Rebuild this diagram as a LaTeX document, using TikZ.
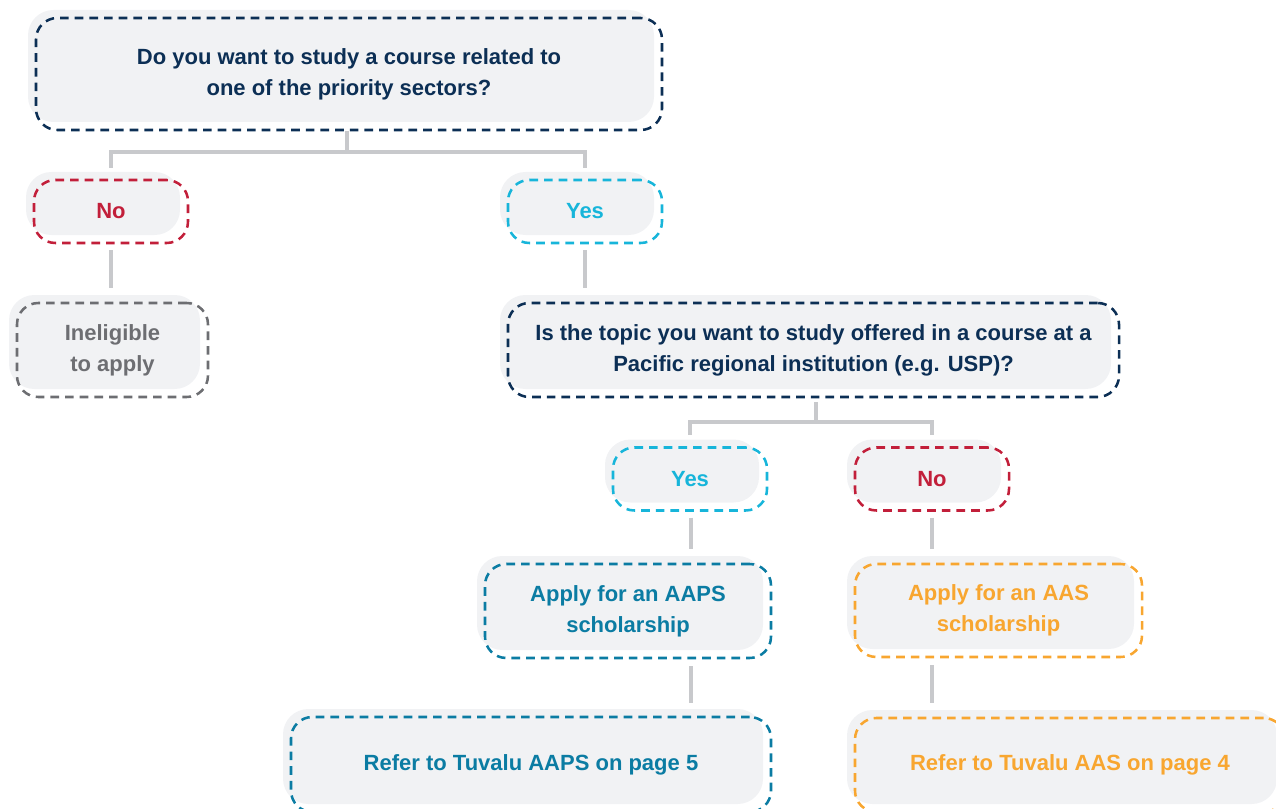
\documentclass[tikz,border=0pt]{standalone}
\usepackage{fontspec}
\setmainfont{Liberation Sans}
\usetikzlibrary{calc}
\definecolor{navy}{HTML}{0C2F55}
\definecolor{cred}{HTML}{C21F3A}
\definecolor{ccyan}{HTML}{17B5DA}
\definecolor{cgray}{HTML}{6D6E72}
\definecolor{cteal}{HTML}{0B7CA3}
\definecolor{corange}{HTML}{F8A630}
\definecolor{boxfill}{HTML}{F1F2F4}
\definecolor{connc}{HTML}{C8C9CC}
\tikzset{
  sz/.style 2 args={minimum width=#1*0.75pt, minimum height=#2*0.75pt},
  bgbox/.style={rectangle, fill=boxfill, draw=none, rounded corners=19pt, inner sep=0pt, outer sep=0pt},
  dbox/.style={rectangle, draw=#1, text=#1, line width=1.9pt, dash pattern=on 6.5pt off 4.5pt,
    rounded corners=16pt, inner sep=0pt, outer sep=0pt, align=center,
    font=\bfseries\fontsize{16.5}{23.2}\selectfont},
  conn/.style={draw=connc, line width=2.6pt}
}
\newcommand\flowbox[7]{%
  \node[bgbox, sz={#5}{#6}] (#1bg) at (#3-8,#4-8) {};
  \node[dbox=#2, sz={#5}{#6}] (#1) at (#3,#4) {#7};}
\begin{document}
\begin{tikzpicture}[x=0.75pt, y=-0.75pt]
\useasboundingbox (0,0) rectangle (1276,809);
\clip (0,0) rectangle (1276,809);
\flowbox{q1}{navy}{349}{74}{626}{112}{Do you want to study a course related to\\one of the priority sectors?}
\flowbox{no1}{cred}{111}{211.5}{154}{63}{No}
\flowbox{yes1}{ccyan}{585}{211.5}{154}{63}{Yes}
\flowbox{inel}{cgray}{112.5}{350}{191}{94}{Ineligible\\to apply}
\flowbox{q2}{navy}{813.5}{350}{611}{94}{Is the topic you want to study offered in a course at a\\Pacific regional institution (e.g. USP)?}
\flowbox{yes2}{ccyan}{690}{479}{154}{63}{Yes}
\flowbox{no2}{cred}{932}{479}{154}{63}{No}
\flowbox{aaps}{cteal}{628}{611}{286}{94}{Apply for an AAPS\\scholarship}
\flowbox{aas}{corange}{998.5}{610.5}{287}{93}{Apply for an AAS\\scholarship}
\flowbox{refaaps}{cteal}{531}{764.5}{480}{95}{Refer to Tuvalu AAPS on page 5}
\flowbox{refaas}{corange}{1070}{765}{430}{94}{Refer to Tuvalu AAS on page 4}
% connectors
\draw[conn] ($(q1.south)+(-2,1)$) coordinate (q1s) -- ($(q1.south)+(-2,22)$) coordinate (j1);
\draw[conn] ($(no1.north)+(0,-12)$) |- (j1) -| ($(yes1.north)+(0,-12)$);
\draw[conn] ($(no1.south)+(0,7)$) -- ($(no1.south |- inel.north)+(0,-15)$);
\draw[conn] ($(yes1.south)+(0,7)$) -- ($(yes1.south |- q2.north)+(0,-15)$);
\draw[conn] ($(q2.south)+(2.5,5)$) -- ($(q2.south)+(2.5,25)$) coordinate (j2);
\draw[conn] ($(yes2.north)+(0,-13)$) |- (j2) -| ($(no2.north)+(0,-13)$);
\draw[conn] ($(yes2.south)+(1,7)$) -- ($(yes2.south |- aaps.north)+(1,-15)$);
\draw[conn] ($(no2.south)+(0,7)$) -- ($(no2.south |- aas.north)+(0,-15)$);
\draw[conn] ($(yes2.south |- aaps.south)+(1,8)$) -- ($(yes2.south |- refaaps.north)+(1,-14)$);
\draw[conn] ($(no2.south |- aas.south)+(0,8)$) -- ($(no2.south |- refaas.north)+(0,-15)$);
\end{tikzpicture}
\end{document}
